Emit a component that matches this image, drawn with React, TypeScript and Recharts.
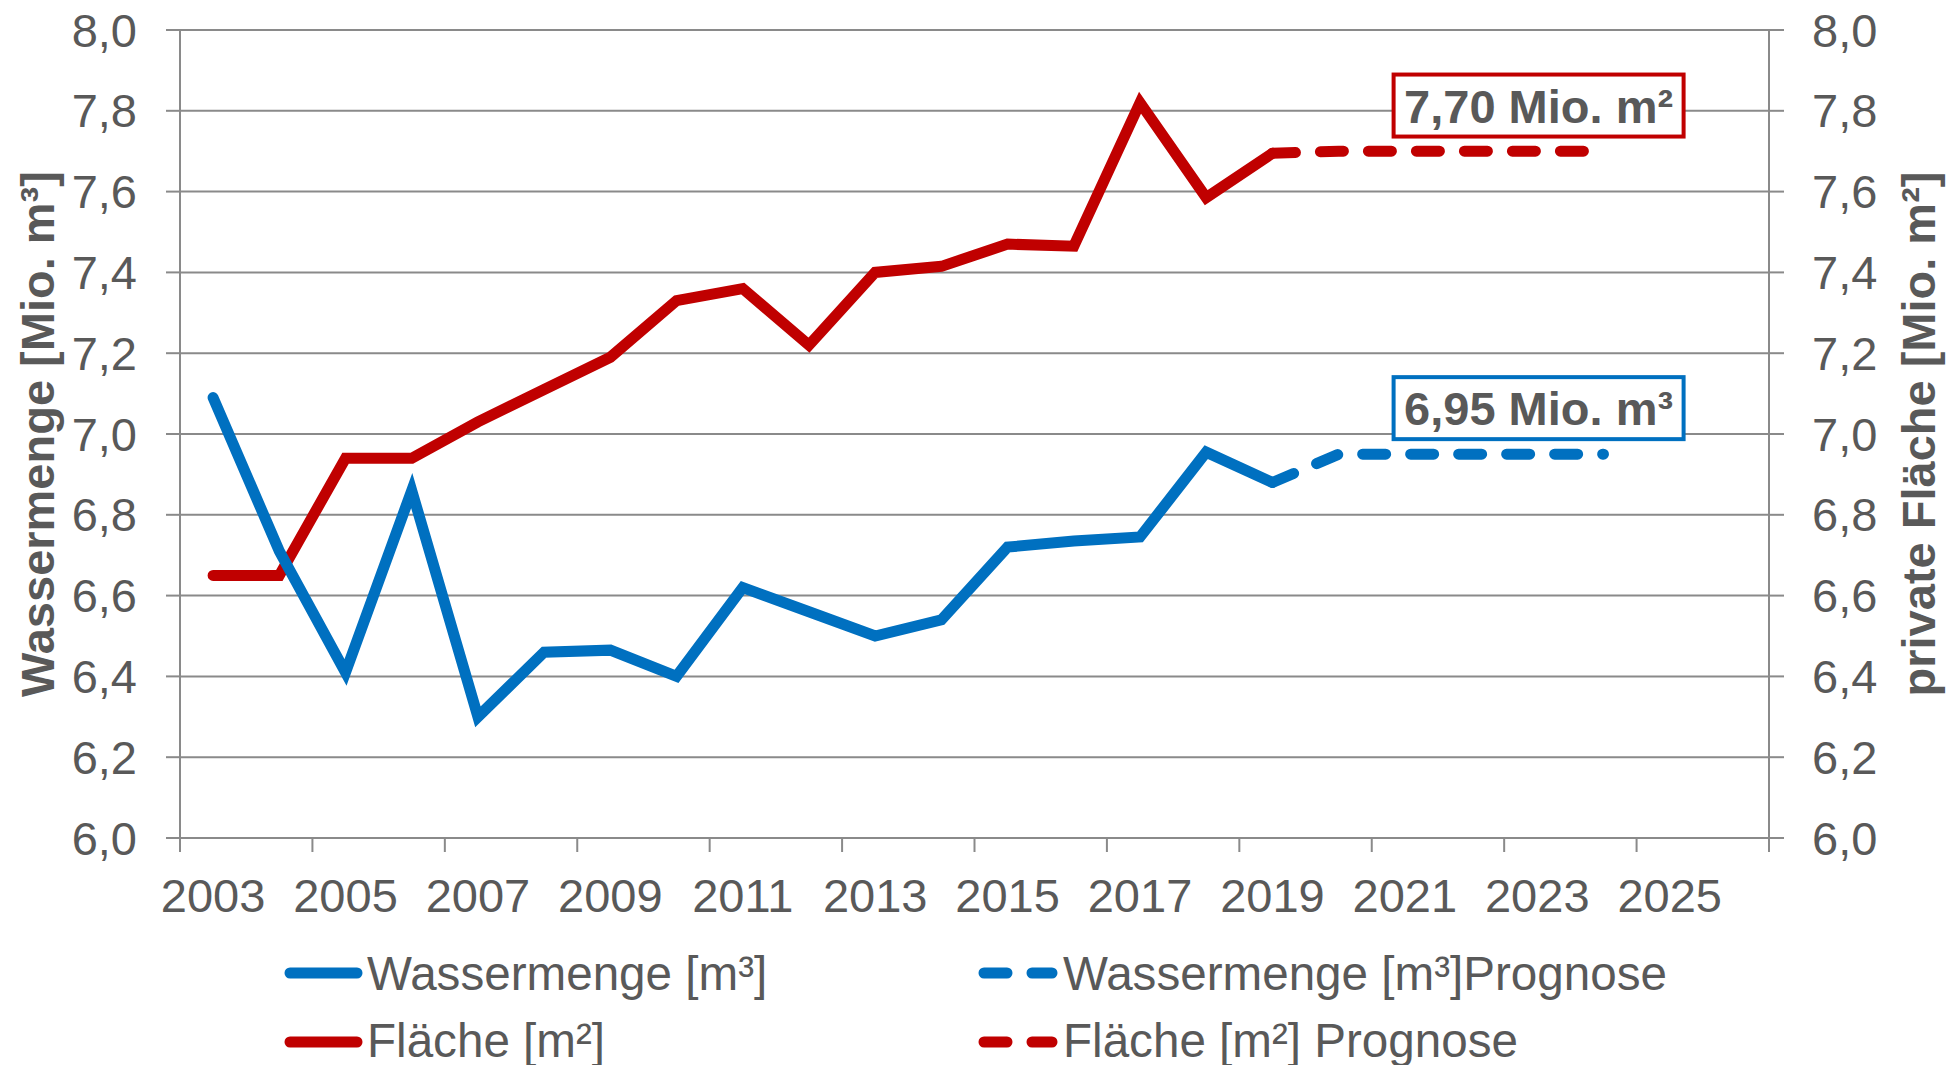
import React from 'react';
import { LineChart, Line, XAxis, YAxis, CartesianGrid, ReferenceDot } from 'recharts';

// Jahre auf der Kategorieachse (2025/2026 ohne Werte)
const years = [
  2003, 2004, 2005, 2006, 2007, 2008, 2009, 2010, 2011, 2012, 2013, 2014,
  2015, 2016, 2017, 2018, 2019, 2020, 2021, 2022, 2023, 2024, 2025, 2026,
];

// Mio. m³
const wassermenge = [
  7.09, 6.71, 6.41, 6.86, 6.3, 6.46, 6.465, 6.4, 6.62, 6.56, 6.5, 6.54,
  6.72, 6.735, 6.745, 6.955, 6.88, null, null, null, null, null, null, null,
];
const wassermengePrognose = [
  null, null, null, null, null, null, null, null, null, null, null, null,
  null, null, null, null, 6.88, 6.95, 6.95, 6.95, 6.95, 6.95, null, null,
];

// Mio. m²
const flaeche = [
  6.65, 6.65, 6.94, 6.94, 7.03, 7.11, 7.19, 7.33, 7.36, 7.22, 7.4, 7.415,
  7.47, 7.465, 7.82, 7.585, 7.695, null, null, null, null, null, null, null,
];
const flaechePrognose = [
  null, null, null, null, null, null, null, null, null, null, null, null,
  null, null, null, null, 7.695, 7.7, 7.7, 7.7, 7.7, 7.7, null, null,
];

const yTicks = [6, 6.2, 6.4, 6.6, 6.8, 7, 7.2, 7.4, 7.6, 7.8, 8];
const labelYears = [2003, 2005, 2007, 2009, 2011, 2013, 2015, 2017, 2019, 2021, 2023, 2025];
const boundaryTicks = [2002.5, 2004.5, 2006.5, 2008.5, 2010.5, 2012.5, 2014.5, 2016.5, 2018.5, 2020.5, 2022.5, 2024.5, 2026.5];
const xTicks = [...labelYears, ...boundaryTicks].sort((a, b) => a - b);

const data = years.map((year, i) => ({
  year,
  wasser: wassermenge[i],
  wasserPrognose: wassermengePrognose[i],
  flaeche: flaeche[i],
  flaechePrognose: flaechePrognose[i],
}));

const BLUE = '#0070C0';
const RED = '#C00000';
const GRID = '#8a8a8a';
const TEXT = '#595959';
const FONT = '"Liberation Sans", Arial, sans-serif';
const DASH = '23 25';
const LW = 11;

const fmt = (v: number) => v.toFixed(1).replace('.', ',');

const XTick = (props: any) => {
  const { x, y, payload } = props;
  const v = payload.value;
  if (v % 1 !== 0) {
    return <line x1={x} x2={x} y1={y} y2={y + 14} stroke={GRID} strokeWidth={2} />;
  }
  return (
    <text x={x} y={y + 74} textAnchor="middle" fill={TEXT} fontSize={47} fontFamily={FONT}>
      {v}
    </text>
  );
};

const AnnotationBox = ({ cx, cy, color, text }: any) => (
  <g>
    <rect x={cx - 145} y={cy - 31} width={290} height={62} fill="#fff" stroke={color} strokeWidth={4} />
    <text x={cx} y={cy + 17} textAnchor="middle" fill={TEXT} fontSize={47} fontWeight="bold" fontFamily={FONT}>
      {text}
    </text>
  </g>
);

export default function App() {
  return (
    <div style={{ position: 'absolute', left: 0, top: 0, width: 1956, height: 1065, background: '#fff', fontFamily: FONT }}>
      <LineChart width={1956} height={1065} data={data} margin={{ top: 30, right: 0, left: 0, bottom: 127 }}>
        <CartesianGrid yAxisId="left" vertical={false} stroke={GRID} strokeWidth={2} />
        <XAxis
          dataKey="year"
          type="number"
          domain={[2002.5, 2026.5]}
          ticks={xTicks}
          interval={0}
          tick={<XTick />}
          tickLine={false}
          tickSize={0}
          tickMargin={0}
          height={100}
          axisLine={{ stroke: GRID, strokeWidth: 2 }}
          allowDataOverflow
        />
        <YAxis
          yAxisId="left"
          domain={[6, 8]}
          ticks={yTicks}
          interval={0}
          width={180}
          tickSize={14}
          tickMargin={29}
          tickFormatter={fmt}
          tick={{ fill: TEXT, fontSize: 47, fontFamily: FONT }}
          axisLine={{ stroke: GRID, strokeWidth: 2 }}
          tickLine={{ stroke: GRID, strokeWidth: 2 }}
        />
        <YAxis
          yAxisId="right"
          orientation="right"
          domain={[6, 8]}
          ticks={yTicks}
          interval={0}
          width={187}
          tickSize={15}
          tickMargin={28}
          tickFormatter={fmt}
          tick={{ fill: TEXT, fontSize: 47, fontFamily: FONT }}
          axisLine={{ stroke: GRID, strokeWidth: 2 }}
          tickLine={{ stroke: GRID, strokeWidth: 2 }}
        />
        <Line yAxisId="right" type="linear" dataKey="flaeche" stroke={RED} strokeWidth={LW} strokeLinecap="round" dot={false} activeDot={false} isAnimationActive={false} />
        <Line yAxisId="right" type="linear" dataKey="flaechePrognose" stroke={RED} strokeWidth={LW} strokeLinecap="round" strokeDasharray={DASH} dot={false} activeDot={false} isAnimationActive={false} />
        <Line yAxisId="left" type="linear" dataKey="wasser" stroke={BLUE} strokeWidth={LW} strokeLinecap="round" dot={false} activeDot={false} isAnimationActive={false} />
        <Line yAxisId="left" type="linear" dataKey="wasserPrognose" stroke={BLUE} strokeWidth={LW} strokeLinecap="round" strokeDasharray={DASH} dot={false} activeDot={false} isAnimationActive={false} />
        <ReferenceDot
          yAxisId="left"
          x={2023.02}
          y={7.813}
          r={0}
          ifOverflow="visible"
          shape={(p: any) => <AnnotationBox cx={p.cx} cy={p.cy} color={RED} text="7,70 Mio. m²" />}
        />
        <ReferenceDot
          yAxisId="left"
          x={2023.02}
          y={7.064}
          r={0}
          ifOverflow="visible"
          shape={(p: any) => <AnnotationBox cx={p.cx} cy={p.cy} color={BLUE} text="6,95 Mio. m³" />}
        />
      </LineChart>

      {/* Achsentitel und Legende */}
      <svg width={1956} height={1065} style={{ position: 'absolute', left: 0, top: 0, pointerEvents: 'none' }}>
        <text transform="translate(54,434) rotate(-90)" textAnchor="middle" fill={TEXT} fontSize={47} fontWeight="bold" fontFamily={FONT}>
          Wassermenge [Mio. m³]
        </text>
        <text transform="translate(1935,434) rotate(-90)" textAnchor="middle" fill={TEXT} fontSize={47} fontWeight="bold" fontFamily={FONT}>
          private Fläche [Mio. m²]
        </text>

        <line x1={290} x2={357} y1={973} y2={973} stroke={BLUE} strokeWidth={LW} strokeLinecap="round" />
        <text x={367} y={990} fill={TEXT} fontSize={47.6} fontFamily={FONT}>Wassermenge [m³]</text>
        <line x1={290} x2={357} y1={1042} y2={1042} stroke={RED} strokeWidth={LW} strokeLinecap="round" />
        <text x={367} y={1057} fill={TEXT} fontSize={47.6} fontFamily={FONT}>Fläche [m²]</text>

        <line x1={984} x2={1052} y1={973} y2={973} stroke={BLUE} strokeWidth={LW} strokeLinecap="round" strokeDasharray={DASH} />
        <text x={1063} y={990} fill={TEXT} fontSize={47.6} fontFamily={FONT}>Wassermenge [m³]Prognose</text>
        <line x1={984} x2={1052} y1={1042} y2={1042} stroke={RED} strokeWidth={LW} strokeLinecap="round" strokeDasharray={DASH} />
        <text x={1063} y={1057} fill={TEXT} fontSize={47.6} fontFamily={FONT}>Fläche [m²] Prognose</text>
      </svg>
    </div>
  );
}
